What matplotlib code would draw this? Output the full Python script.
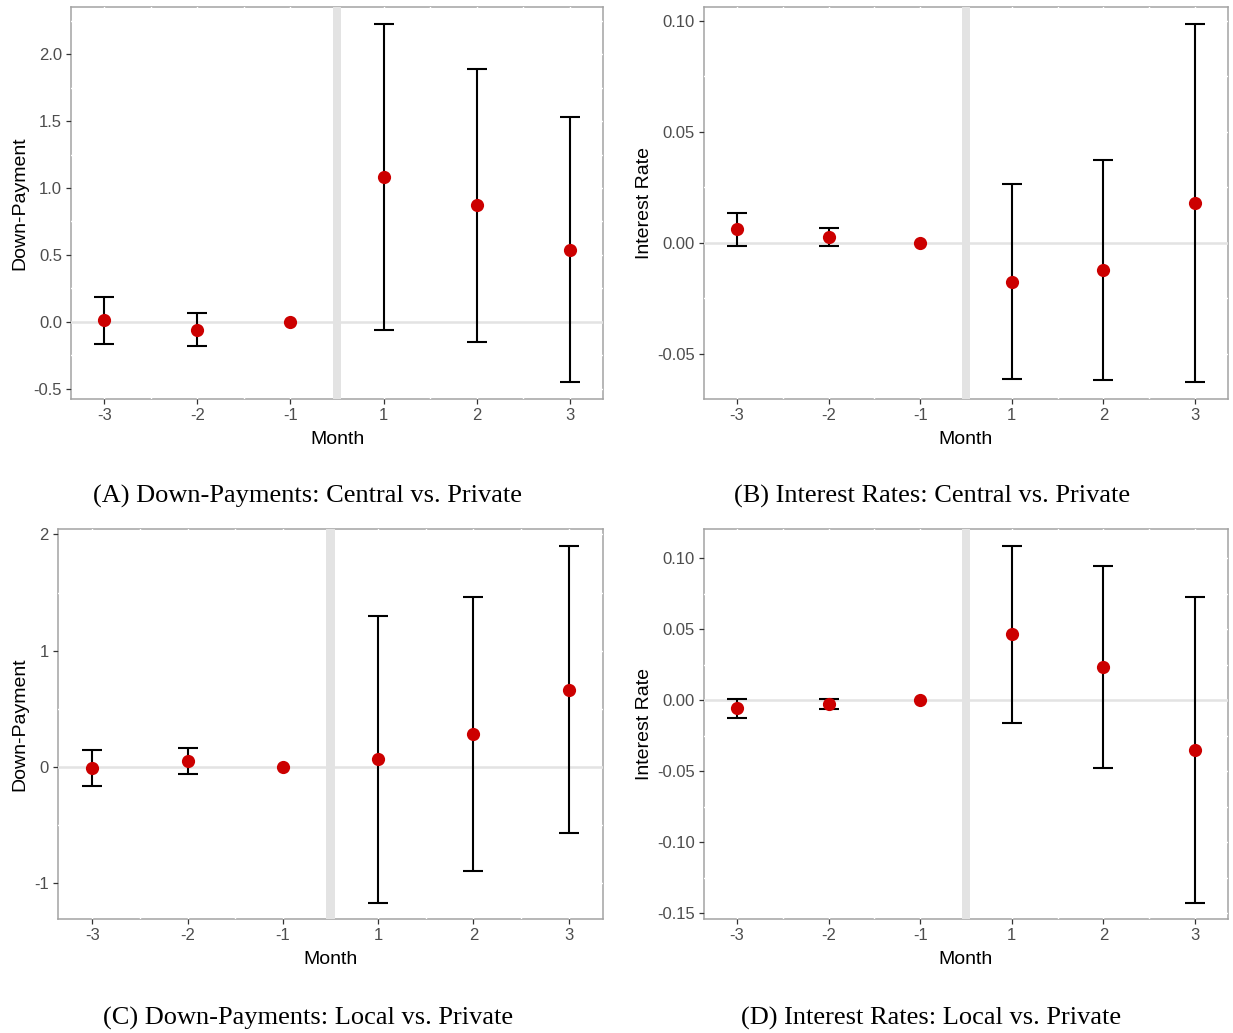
import matplotlib
matplotlib.use('Agg')
import matplotlib.pyplot as plt
from matplotlib.ticker import MultipleLocator, FixedLocator

plt.rcParams['font.family'] = ['Liberation Sans', 'DejaVu Sans']
plt.rcParams['axes.unicode_minus'] = False

month_labels = ['-3', '-2', '-1', '1', '2', '3']

# (A) Down-payments: central vs. private
dp_central_est = [0.015, -0.06, 0.0, 1.082, 0.873, 0.537]
dp_central_lo = [-0.164, -0.179, 0.0, -0.06, -0.149, -0.448]
dp_central_hi = [0.187, 0.067, 0.0, 2.224, 1.888, 1.530]

# (B) Interest rates: central vs. private
ir_central_est = [0.0062, 0.0029, 0.0, -0.0174, -0.0122, 0.0180]
ir_central_lo = [-0.0012, -0.0012, 0.0, -0.0613, -0.0617, -0.0626]
ir_central_hi = [0.0136, 0.0069, 0.0, 0.0266, 0.0374, 0.0986]

# (C) Down-payments: local vs. private
dp_local_est = [-0.009, 0.054, 0.0, 0.065, 0.284, 0.662]
dp_local_lo = [-0.163, -0.060, 0.0, -1.170, -0.894, -0.567]
dp_local_hi = [0.146, 0.163, 0.0, 1.294, 1.462, 1.900]

# (D) Interest rates: local vs. private
ir_local_est = [-0.0056, -0.0026, 0.0, 0.0465, 0.0235, -0.0350]
ir_local_lo = [-0.0122, -0.0063, 0.0, -0.0158, -0.0479, -0.1428]
ir_local_hi = [0.0009, 0.0009, 0.0, 0.1087, 0.0948, 0.0727]

captions = ['(A) Down-Payments: Central vs. Private',
            '(B) Interest Rates: Central vs. Private',
            '(C) Down-Payments: Local vs. Private',
            '(D) Interest Rates: Local vs. Private']

W, H = 1233, 1033
fig = plt.figure(figsize=(W / 100, H / 100), dpi=100)


def px_axes(left, top, right, bottom):
    return fig.add_axes([left / W, 1 - bottom / H, (right - left) / W, (bottom - top) / H])


def event_panel(ax, est, lo, hi, ylabel, ylim, major, minor, fmt, ylabel_x):
    xs = list(range(1, len(est) + 1))
    ax.set_xlim(0.64, 6.36)
    ax.set_ylim(*ylim)

    ax.axvspan(3.455, 3.545, color='#e3e3e3', lw=0, zorder=2)
    ax.axhline(0, color='#e3e3e3', lw=1.8, zorder=2)

    # the reference month has no interval, so skip its error bar
    keep = [i for i in range(len(est)) if hi[i] > lo[i]]
    bx = [xs[i] for i in keep]
    by = [est[i] for i in keep]
    err_lo = [est[i] - lo[i] for i in keep]
    err_hi = [hi[i] - est[i] for i in keep]
    ax.errorbar(bx, by, yerr=[err_lo, err_hi], fmt='none', ecolor='black',
                elinewidth=1.5, capsize=7.5, capthick=1.5, zorder=3)
    ax.plot(xs, est, 'o', color='#cc0000', markersize=9.5, markeredgewidth=0, zorder=4)

    ax.xaxis.set_major_locator(FixedLocator(xs))
    ax.xaxis.set_minor_locator(FixedLocator([x + 0.5 for x in xs[:-1]]))
    ax.set_xticks(xs)
    ax.set_xticklabels(month_labels)
    ax.yaxis.set_major_locator(MultipleLocator(major))
    ax.yaxis.set_minor_locator(MultipleLocator(minor))
    ax.yaxis.set_major_formatter(fmt)

    ax.set_axisbelow(True)
    ax.grid(True, which='both', color='white', lw=1.0)
    for side in ax.spines.values():
        side.set_color('#a3a3a3')
        side.set_linewidth(1.1)
        side.set_zorder(0.4)

    ax.tick_params(axis='both', which='major', direction='out', length=3.5, width=0.9,
                   color='#333333', labelcolor='#4d4d4d', labelsize=12, pad=3)
    ax.tick_params(axis='both', which='minor', length=0)

    ax.set_xlabel('Month', fontsize=14)
    ax.xaxis.label.set_va('baseline')
    ax.xaxis.set_label_coords(0.5, -0.116)
    ax.set_ylabel(ylabel, fontsize=14)
    ax.yaxis.label.set_va('center')
    ax.yaxis.set_label_coords(ylabel_x, 0.5)


ax_a = px_axes(71, 7, 603, 399)
event_panel(ax_a, dp_central_est, dp_central_lo, dp_central_hi, 'Down-Payment',
            (-0.575, 2.351), 0.5, 0.25, '{x:.1f}', -0.0967)

ax_b = px_axes(704, 7, 1228, 399)
event_panel(ax_b, ir_central_est, ir_central_lo, ir_central_hi, 'Interest Rate',
            (-0.0703, 0.1063), 0.05, 0.025, '{x:.2f}', -0.1135)

ax_c = px_axes(58, 529, 603, 919)
event_panel(ax_c, dp_local_est, dp_local_lo, dp_local_hi, 'Down-Payment',
            (-1.307, 2.046), 1, 0.5, '{x:.0f}', -0.0706)

ax_d = px_axes(704, 529, 1228, 919)
event_panel(ax_d, ir_local_est, ir_local_lo, ir_local_hi, 'Interest Rate',
            (-0.154, 0.1206), 0.05, 0.025, '{x:.2f}', -0.1135)

caption_pos = [(307.5, 496), (932, 496), (308.5, 1018), (931.5, 1018)]
for text, (cx, cy) in zip(captions, caption_pos):
    fig.text(cx / W, 1 - cy / H, text, ha='center', va='center',
             family=['Liberation Serif', 'DejaVu Serif'], fontsize=19)

fig.savefig('out.png', dpi=100)
plt.close(fig)
